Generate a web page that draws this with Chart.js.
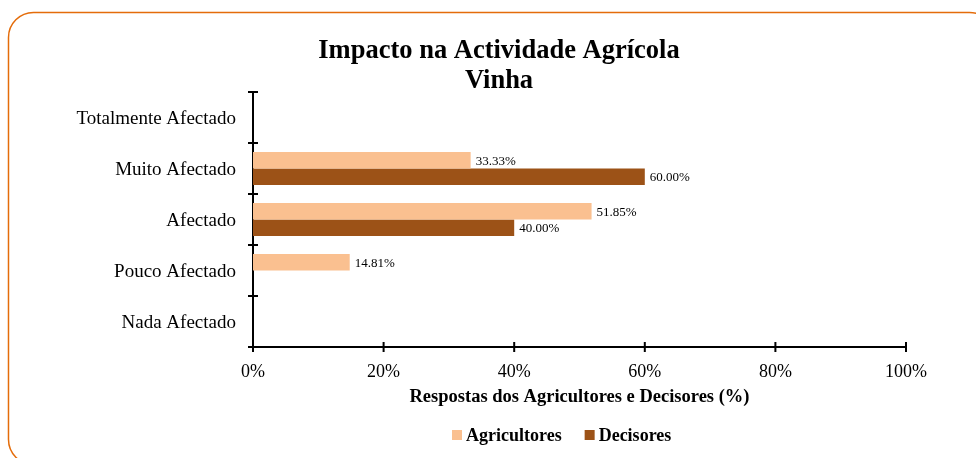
<!DOCTYPE html>
<html>
<head>
<meta charset="utf-8">
<script src="https://cdn.jsdelivr.net/npm/chart.js@4.4.0/dist/chart.umd.min.js"></script>
<style>
  html, body { margin: 0; padding: 0; background: #fff; }
  #wrap { width: 976px; height: 458px; position: relative; }
</style>
</head>
<body>
<div id="wrap"><canvas id="chart"></canvas></div>
<script>
// ─── Data ─────────────────────────────────────────────────────────────────────
const categories = ['Totalmente Afectado', 'Muito Afectado', 'Afectado', 'Pouco Afectado', 'Nada Afectado'];
const agricultores = [0, 33.33, 51.85, 14.81, 0];
const decisores = [0, 60.00, 40.00, 0, 0];
const xTicks = [0, 20, 40, 60, 80, 100];
const titleLines = ['Impacto na Actividade Agrícola', 'Vinha'];
const xTitle = 'Respostas dos Agricultores e Decisores (%)';

const LIGHT = '#FAC090';
const DARK = '#9C5217';
const SERIF = '"Liberation Serif", "Times New Roman", serif';

// ─── Decorations: frame, title, axis title, legend, tick marks, labels ───────
const decor = {
  id: 'decor',
  beforeDraw(chart) {
    const c = chart.ctx;
    c.save();
    c.fillStyle = '#fff';
    c.fillRect(0, 0, chart.width, chart.height);
    c.strokeStyle = '#E46C0A';
    c.lineWidth = 1.5;
    c.beginPath();
    c.roundRect(8.5, 12.5, 986, 452, 25);
    c.stroke();
    c.restore();
  },
  afterDraw(chart) {
    const c = chart.ctx;
    const a = chart.chartArea;
    const xs = chart.scales.x;
    c.save();
    c.fillStyle = '#000';
    c.textAlign = 'center';
    c.textBaseline = 'middle';

    // title
    c.font = 'bold 26.5px ' + SERIF;
    titleLines.forEach((t, i) => c.fillText(t, 499, 51 + i * 30));

    // axis title
    c.font = 'bold 18.5px ' + SERIF;
    c.fillText(xTitle, (a.left + a.right) / 2, 397);

    // tick marks crossing the axes
    c.strokeStyle = '#000';
    c.lineWidth = 2;
    c.beginPath();
    xs.ticks.forEach((t, i) => {
      const px = xs.getPixelForTick(i);
      c.moveTo(px, a.bottom - 5); c.lineTo(px, a.bottom + 5);
    });
    const step = (a.bottom - a.top) / categories.length;
    for (let i = 0; i <= categories.length; i++) {
      const py = a.top + i * step;
      c.moveTo(a.left - 5, py); c.lineTo(a.left + 5, py);
    }
    c.stroke();

    // data labels
    c.font = '13px ' + SERIF;
    c.textAlign = 'left';
    chart.data.datasets.forEach((ds, di) => {
      chart.getDatasetMeta(di).data.forEach((bar, i) => {
        const v = ds.data[i];
        if (!v) return;
        c.fillText(v.toFixed(2) + '%', bar.x + 5, bar.y + 1);
      });
    });

    // legend
    const items = [['Agricultores', LIGHT], ['Decisores', DARK]];
    c.font = 'bold 18px ' + SERIF;
    let x = 452;
    const ly = 435;
    items.forEach(([label, col]) => {
      c.fillStyle = col;
      c.fillRect(x, ly - 5, 10, 10);
      c.fillStyle = '#000';
      c.fillText(label, x + 14, ly + 1);
      x += 14 + c.measureText(label).width + 23;
    });
    c.restore();
  }
};

// ─── Chart ────────────────────────────────────────────────────────────────────
new Chart(document.getElementById('chart'), {
  type: 'bar',
  data: {
    labels: categories,
    datasets: [
      { label: 'Agricultores', data: agricultores, backgroundColor: LIGHT, borderWidth: 0 },
      { label: 'Decisores', data: decisores, backgroundColor: DARK, borderWidth: 0 },
    ],
  },
  options: {
    indexAxis: 'y',
    responsive: true,
    maintainAspectRatio: false,
    animation: false,
    events: [],
    layout: { padding: { left: 0, right: 70, top: 92, bottom: 0 } },
    datasets: { bar: { categoryPercentage: 0.65, barPercentage: 1 } },
    plugins: { legend: { display: false }, title: { display: false }, tooltip: { enabled: false } },
    scales: {
      x: {
        min: 0,
        max: 100,
        afterBuildTicks: s => { s.ticks = xTicks.map(v => ({ value: v })); },
        afterFit: s => { s.height = 111; },
        grid: { display: false },
        border: { display: true, color: '#000', width: 2 },
        ticks: {
          color: '#000',
          font: { family: SERIF, size: 18 },
          padding: 6,
          maxRotation: 0,
          callback: v => v + '%',
        },
      },
      y: {
        afterFit: s => { s.width = 253; },
        grid: { display: false },
        border: { display: true, color: '#000', width: 2 },
        ticks: {
          color: '#000',
          font: { family: SERIF, size: 19 },
          padding: 9,
          labelOffset: 1.5,
        },
      },
    },
  },
  plugins: [decor],
});
</script>
</body>
</html>
